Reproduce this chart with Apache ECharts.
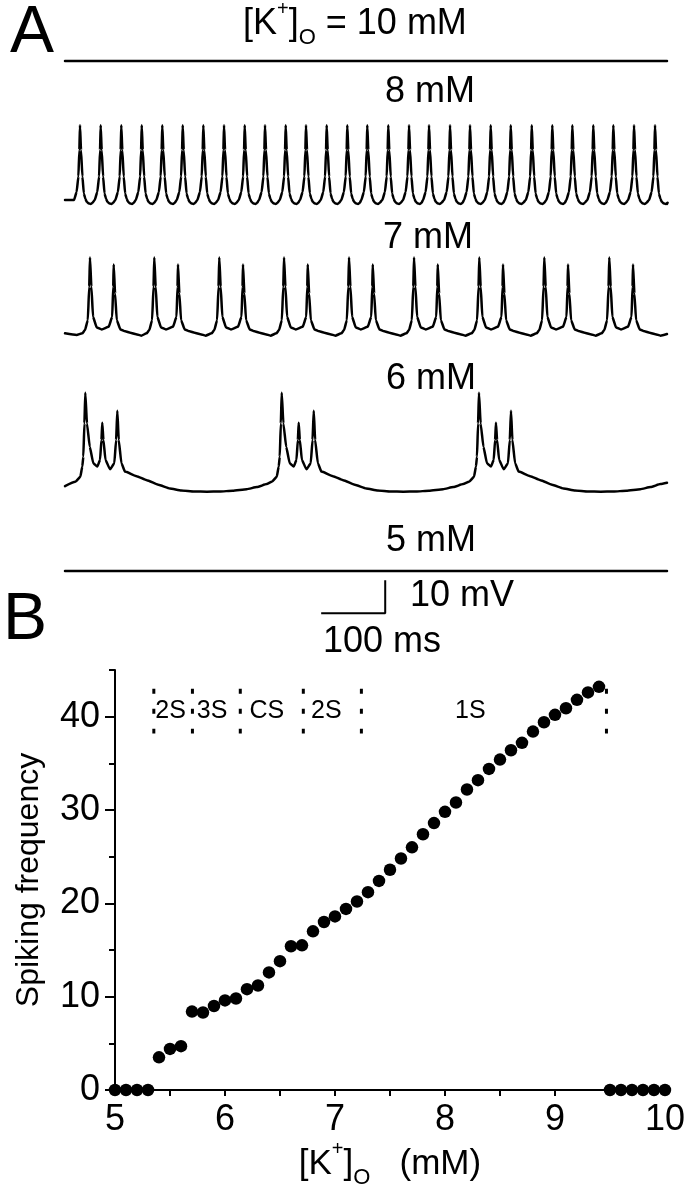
<!DOCTYPE html>
<html><head><meta charset="utf-8">
<script src="https://cdn.jsdelivr.net/npm/echarts@6/dist/echarts.min.js"></script>
<style>html,body{margin:0;padding:0;background:#fff}#c{width:688px;height:1200px}</style>
</head><body><div id="c"></div>
<script>
// ================= Panel A data (time in ms, voltage in mV relative to trace trough) =================
const timeMaxMs = 940;
// 10 mM: depolarisation block (flat)
const trace10 = [[0, 0], [940, 0]];
// 8 mM: tonic spiking
const spikeTimes8 = [23.4, 55.7, 87.9, 119.8, 151.9, 183.8, 216.0, 248.3, 280.6, 312.3, 344.6, 376.3, 408.6, 440.8, 472.0,
  504.8, 537.2, 568.4, 601.2, 632.4, 664.7, 696.0, 728.8, 760.9, 792.2, 824.9, 856.2, 888.5, 921.3];
const spikeShape8 = [[-9.4, 1.2], [-5.3, 3.6], [-2.5, 8.3], [-1.0, 16.4], [0, 23.9], [1.6, 16.4], [3.8, 8.3], [6.0, 3.2],
  [8.3, 1.6], [10.5, 0.7], [13.2, 0.2], [16.7, 0], [19.6, 0.4]];
const trace8Head = [[0, 1.2]];
const trace8Tail = [[940, 0]];
// 7 mM: doublets
const pairTimes7 = [39.0, 139.4, 240.9, 342.0, 443.5, 545.0, 646.9, 748.4, 849.9];
const pairShape7 = [[-12, 0.5], [-7.8, 1.5], [-3.4, 4.5], [-1.2, 14.6], [0, 23.5], [2.2, 14.6], [4.8, 5.5], [10.5, 2.3], [18.3, 1.7],
  [29.2, 2.5], [34.7, 5.5], [36.3, 14.6], [37.0, 21.4], [39.2, 12.6], [41.8, 4.5], [47.5, 1.7], [55, 1.1], [63, 0.7],
  [72, 0.25], [80, -0.2]];
const trace7Head = [[0, 0.5], [18, 0]];
const trace7Tail = [[940, 0.3]];
// 6 mM: triplet bursts
const burstTimes6 = [31.7, 338.4, 646.4];
const burstShape6 = [[-15.6, 3.0], [-7.8, 4.5], [-4.7, 7.6], [-3.1, 10.6], [-1.4, 20.7], [0, 30.0], [2.6, 20.7], [7.0, 13.6], [12.5, 8.6],
  [18.7, 7.6], [23.0, 9.6], [25.2, 15.7], [26.5, 20.9], [28.3, 15.7], [31.5, 9.6], [38.6, 6.8], [45.3, 8.6], [48.1, 15.7],
  [50.0, 24.5], [52.2, 15.7], [56.4, 8.6], [62.0, 6.1], [80, 4.7], [96, 3.5], [114, 2.1], [132, 1.0], [150, 0.35],
  [170, 0.05], [190, 0], [210, 0.05], [230, 0.3], [252, 0.75], [268, 1.4], [283.3, 2.3]];
const trace6Head = [[0, 1.7]];
const trace6Tail = [[940, 2.7]];
// 5 mM: rest (flat)
const trace5 = [[0, 0], [940, 0]];
// scale bar: 100 ms, 10 mV
const scaleBarTimes = [400, 500];
const scaleBarMv = 10;

// ================= Panel B data =================
const kO = [5.0, 5.1, 5.2, 5.3, 5.4, 5.5, 5.6, 5.7, 5.8, 5.9, 6.0, 6.1, 6.2, 6.3, 6.4, 6.5, 6.6, 6.7, 6.8, 6.9, 7.0,
  7.1, 7.2, 7.3, 7.4, 7.5, 7.6, 7.7, 7.8, 7.9, 8.0, 8.1, 8.2, 8.3, 8.4, 8.5, 8.6, 8.7, 8.8, 8.9, 9.0,
  9.1, 9.2, 9.3, 9.4, 9.5, 9.6, 9.7, 9.8, 9.9, 10.0];
const spikeFreq = [0, 0, 0, 0, 3.5, 4.4, 4.7, 8.4, 8.3, 9.0, 9.6, 9.8, 10.8, 11.2, 12.6, 13.8, 15.4, 15.5, 17.0, 18.0, 18.6,
  19.4, 20.2, 21.2, 22.4, 23.6, 24.8, 26.0, 27.4, 28.6, 29.8, 30.8, 32.2, 33.2, 34.4, 35.4, 36.4, 37.2, 38.4, 39.4, 40.2,
  40.9, 41.8, 42.6, 43.2, 0, 0, 0, 0, 0, 0];
const yMajorTicks = [0, 10, 20, 30, 40];
const yMinorTicks = [5, 15, 25, 35, 45];
const regimeBounds = [5.353, 5.704, 6.139, 6.712, 7.240, 9.468];
const boundTop = 43.0, boundBottom = 38.2;
const regimeNames = ['2S', '3S', 'CS', '2S', '1S'];
const regimeLabelK = [5.505, 5.883, 6.381, 6.922, 8.231];
const regimeLabelF = 40.6;

// ================= build =================
const FONT = 'Liberation Sans';
const MV_PX = 3.3;
function composeTrace(head, times, shape, tail) {
  const pts = head.slice();
  times.forEach(t0 => shape.forEach(p => pts.push([t0 + p[0], p[1]])));
  tail.forEach(p => pts.push(p));
  return pts;
}
const traces = [
  trace10,
  composeTrace(trace8Head, spikeTimes8, spikeShape8, trace8Tail),
  composeTrace(trace7Head, pairTimes7, pairShape7, trace7Tail),
  composeTrace(trace6Head, burstTimes6, burstShape6, trace6Tail),
  trace5
];
const scaleBar = [[scaleBarTimes[0], 0], [scaleBarTimes[1], 0], [scaleBarTimes[1], scaleBarMv]];

// layout (pixel anchor of 0 mV for each strip)
const strips = [
  {anchor: 61, vmin: -5, vmax: 5},
  {anchor: 204, vmin: -5, vmax: 30},
  {anchor: 335, vmin: -5, vmax: 30},
  {anchor: 491.7, vmin: -5, vmax: 35},
  {anchor: 571, vmin: -5, vmax: 5},
  {anchor: 613.3, vmin: -5, vmax: 15}
];
const grid = [], xAxis = [], yAxis = [], series = [];
strips.forEach((s, i) => {
  grid.push({left: 65, width: 602, top: s.anchor - s.vmax * MV_PX, height: (s.vmax - s.vmin) * MV_PX});
  xAxis.push({type: 'value', gridIndex: i, min: 0, max: timeMaxMs, show: false});
  yAxis.push({type: 'value', gridIndex: i, min: s.vmin, max: s.vmax, show: false});
});
traces.forEach((d, i) => {
  series.push({type: 'line', xAxisIndex: i, yAxisIndex: i, data: d, symbol: 'none', smooth: 0.15, smoothMonotone: 'x',
    clip: false, silent: true, lineStyle: {color: '#000', width: 2.5, join: 'round', cap: 'round'}});
});
series.push({type: 'line', xAxisIndex: 5, yAxisIndex: 5, data: scaleBar, symbol: 'none', clip: false, silent: true,
  lineStyle: {color: '#000', width: 2}});

// panel B
grid.push({left: 115, width: 552, top: 670, height: 420});
xAxis.push({
  type: 'value', gridIndex: 6, min: 5, max: 10, interval: 1,
  axisLine: {show: true, onZero: false, lineStyle: {color: '#000', width: 2}},
  axisTick: {show: true, length: 6, lineStyle: {color: '#000', width: 2}},
  minorTick: {show: true, splitNumber: 2, length: 6, lineStyle: {color: '#000', width: 2}},
  splitLine: {show: false},
  axisLabel: {fontSize: 36, fontFamily: FONT, color: '#000', margin: 12},
  name: '{m|[K}{sp|+}{m|]}{sb|O}{m|   (mM)}',
  nameLocation: 'middle', nameGap: 49,
  nameTextStyle: {color: '#000', fontFamily: FONT, fontSize: 35, rich: {
    m: {fontSize: 35, lineHeight: 50, fontFamily: FONT, color: '#000'},
    sp: {fontSize: 20, lineHeight: 24, verticalAlign: 'top', fontFamily: FONT, color: '#000'},
    sb: {fontSize: 22, lineHeight: 10, verticalAlign: 'bottom', fontFamily: FONT, color: '#000'}
  }}
});
yAxis.push({
  type: 'value', gridIndex: 6, min: 0, max: 45, position: 'left',
  axisLine: {show: true, onZero: false, lineStyle: {color: '#000', width: 2}},
  axisTick: {show: true, length: 10, customValues: yMajorTicks, lineStyle: {color: '#000', width: 2}},
  splitLine: {show: false},
  axisLabel: {fontSize: 36, fontFamily: FONT, color: '#000', margin: 15, customValues: yMajorTicks},
  name: 'Spiking frequency', nameLocation: 'middle', nameGap: 70,
  nameTextStyle: {color: '#000', fontFamily: FONT, fontSize: 32}
});
yAxis.push({
  type: 'value', gridIndex: 6, min: 0, max: 45, position: 'left', offset: 0,
  axisLine: {show: false},
  axisTick: {show: true, length: 6, customValues: yMinorTicks, lineStyle: {color: '#000', width: 2}},
  splitLine: {show: false},
  axisLabel: {show: false}
});
regimeBounds.forEach(k => {
  series.push({type: 'line', xAxisIndex: 6, yAxisIndex: 6, data: [[k, boundTop], [k, boundBottom]], symbol: 'none',
    silent: true, clip: false, lineStyle: {color: '#000', width: 3, type: [5, 15]}});
});
series.push({
  type: 'scatter', xAxisIndex: 6, yAxisIndex: 6, symbolSize: 0, silent: true, clip: false,
  itemStyle: {opacity: 1},
  data: regimeNames.map((n, i) => ({name: n, value: [regimeLabelK[i], regimeLabelF]})),
  label: {show: true, position: 'inside', formatter: p => p.name, fontSize: 25, fontFamily: FONT, color: '#000', opacity: 1}
});
series.push({
  type: 'scatter', xAxisIndex: 6, yAxisIndex: 6, symbol: 'circle', symbolSize: 12.5, clip: false, z: 5,
  itemStyle: {color: '#000', opacity: 1}, data: kO.map((k, i) => [k, spikeFreq[i]])
});

const richTitle = {
  m: {fontSize: 36, lineHeight: 50, fontFamily: FONT, fill: '#000'},
  sp: {fontSize: 20, lineHeight: 24, verticalAlign: 'top', fontFamily: FONT, fill: '#000'},
  sb: {fontSize: 22, lineHeight: 10, verticalAlign: 'bottom', fontFamily: FONT, fill: '#000'}
};
function txt(text, x, y, size) {
  return {type: 'text', x: x, y: y, silent: true,
    style: {text: text, fontSize: size, fontFamily: FONT, fill: '#000', align: 'left', verticalAlign: 'middle'}};
}
const graphic = [
  txt('A', 10, 34, 66),
  txt('B', 3, 621, 66),
  {type: 'text', x: 243, y: 24, silent: true, style: {text: '{m|[K}{sp|+}{m|]}{sb|O}{m| = 10 mM}', rich: richTitle,
    fontFamily: FONT, fontSize: 36, fill: '#000', align: 'left', verticalAlign: 'middle'}},
  txt('8 mM', 385, 92, 36),
  txt('7 mM', 383, 238, 36),
  txt('6 mM', 386, 379, 36),
  txt('5 mM', 386, 541, 36),
  txt('10 mV', 410, 596, 36),
  txt('100 ms', 323, 642, 36)
];

const chart = echarts.init(document.getElementById('c'), null, {renderer: 'canvas'});
chart.setOption({animation: false, backgroundColor: '#fff', grid, xAxis, yAxis, series, graphic});
</script></body></html>
